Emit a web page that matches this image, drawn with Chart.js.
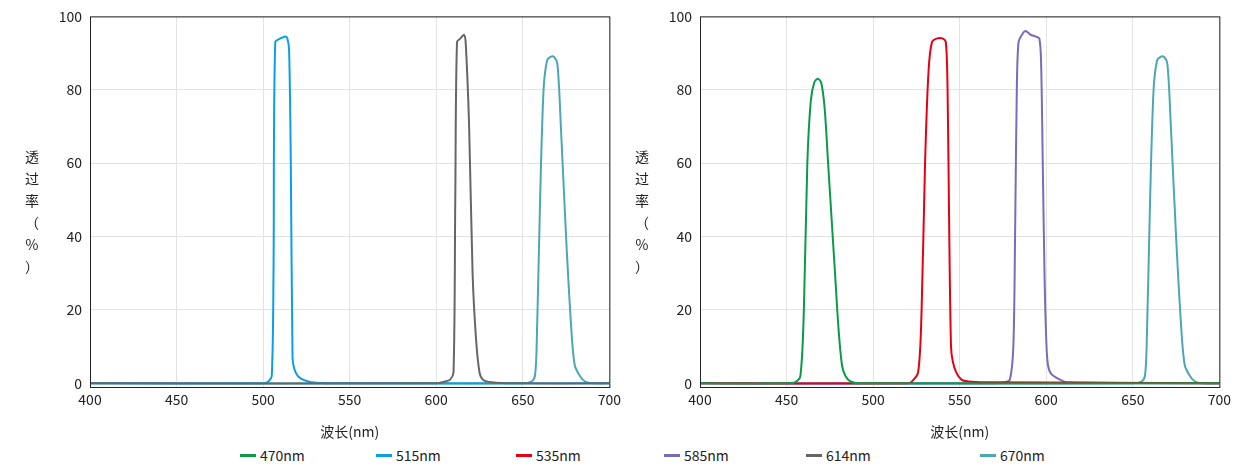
<!DOCTYPE html><html><head><meta charset="utf-8">
<script src="https://cdn.jsdelivr.net/npm/chart.js@4"></script>
<style>body{margin:0;width:1245px;height:474px;background:#fff;font-family:"Noto Sans CJK SC","Noto Sans",sans-serif;position:relative;overflow:hidden}
.c{position:absolute;top:0;width:625px;height:440px}
.yt{position:absolute;font-size:14px;color:#222;line-height:22px;text-align:center;width:20px;top:145px}
.lg{position:absolute;top:445px;font-size:14px;color:#222;display:flex;align-items:center}
.lg i{display:inline-block;width:16px;height:3px;margin-right:4px}
</style></head><body>
<div class="c" style="left:0"><canvas id="a"></canvas></div>
<div class="c" style="left:610px"><canvas id="b"></canvas></div>
<div class="yt" style="left:22px">透<br>过<br>率<br>（<br>%<br>）</div>
<div class="yt" style="left:632px">透<br>过<br>率<br>（<br>%<br>）</div>
<div id="leg"></div>
<script>
const names=['470nm','515nm','535nm','585nm','614nm','670nm'];
const colors=['#0a9a48','#0a9ee6','#e60012','#7b6bb8','#666666','#4aa8b4'];
const legendX=[240,376,516,664,806,980];
const xTicks=[400,450,500,550,600,650,700];
const yTicks=[0,20,40,60,80,100];
const wl470=[400,450,455,458,460,462,464,466,468,470,472,474,476,478,480,482,484,487,492,700];
const v470=[0,0,0.3,2,20,60,77,82,83,82,75,60,45,30,15,5,2,0.5,0,0];
const wl515=[400,500,503,505,506,507,510,513,514,515,516,517,518,520,523,528,540,700];
const v515=[0,0,0.5,2,30,93,94,94.5,94,91,60,7,4,2,1,0.3,0,0];
const wl535=[400,520,522,526,528,530,532,534,537,540,542,543,544,545,546,548,551,555,565,700];
const v535=[0,0,0.3,3,20,60,85,93,94,94,93,80,40,10,6,3,1,0.5,0.3,0];
const wl585=[400,570,576,579,581,582,583,584,586,588,591,594,596,597,598,599,600,601,603,608,612,700];
const v585=[0,0,0.3,1,10,40,80,93,95,96,95,94.5,94,88,60,30,12,5,2.5,1,0.3,0];
const wl614=[400,600,605,608,610,611,612,614,616,617,619,621,623,625,627,632,645,700];
const v614=[0,0,0.5,1,3,50,93,94,95,93,70,30,12,3,1,0.3,0,0];
const wl670=[400,650,655,657,658,660,662,664,666,668,670,672,675,678,680,683,686,690,700];
const v670=[0,0,0.5,2,10,50,80,88,89,89,87,70,40,15,5,2,0.5,0,0];
const W=[wl470,wl515,wl535,wl585,wl614,wl670],V=[v470,v515,v535,v585,v614,v670];
const leg=document.getElementById('leg');
names.forEach((n,i)=>{leg.innerHTML+=`<div class="lg" style="left:${legendX[i]}px"><i style="background:${colors[i]}"></i>${n}</div>`;});
const ds=i=>({label:names[i],data:W[i].map((x,k)=>({x,y:V[i][k]})),borderColor:colors[i],borderWidth:2,pointRadius:0,tension:0.3,fill:false});
const frame={id:'frame',afterDraw(c){const a=c.chartArea,g=c.ctx;g.save();g.strokeStyle='#222';g.lineWidth=1;g.strokeRect(a.left+0.5,a.top+0.5,a.right-a.left,a.bottom-a.top);g.restore();}};
const font={family:'"Noto Sans CJK SC","Noto Sans",sans-serif',size:14};
function mk(id,idx){new Chart(document.getElementById(id),{type:'line',data:{datasets:idx.map(ds)},plugins:[frame],
options:{animation:false,responsive:true,maintainAspectRatio:false,layout:{padding:{top:15,right:14,left:0,bottom:0}},
plugins:{legend:{display:false},tooltip:{enabled:false}},
scales:{x:{type:'linear',min:400,max:700,afterBuildTicks:s=>{s.ticks=xTicks.map(v=>({value:v}))},afterFit:s=>{s.height=53},
 ticks:{font,color:'#222',maxRotation:0,padding:4},grid:{color:'#e3e3e3',drawTicks:false},border:{display:false},
 title:{display:true,text:'波长(nm)',font,color:'#222',padding:{top:0,bottom:0}}},
 y:{min:-1,max:100,afterBuildTicks:s=>{s.ticks=yTicks.map(v=>({value:v}))},afterFit:s=>{s.width=90},
 ticks:{font,color:'#222',padding:8},grid:{color:'#e3e3e3',drawTicks:false},border:{display:false}}}}});}
mk('a',[4,1,5]);mk('b',[0,2,3,5]);
</script></body></html>
